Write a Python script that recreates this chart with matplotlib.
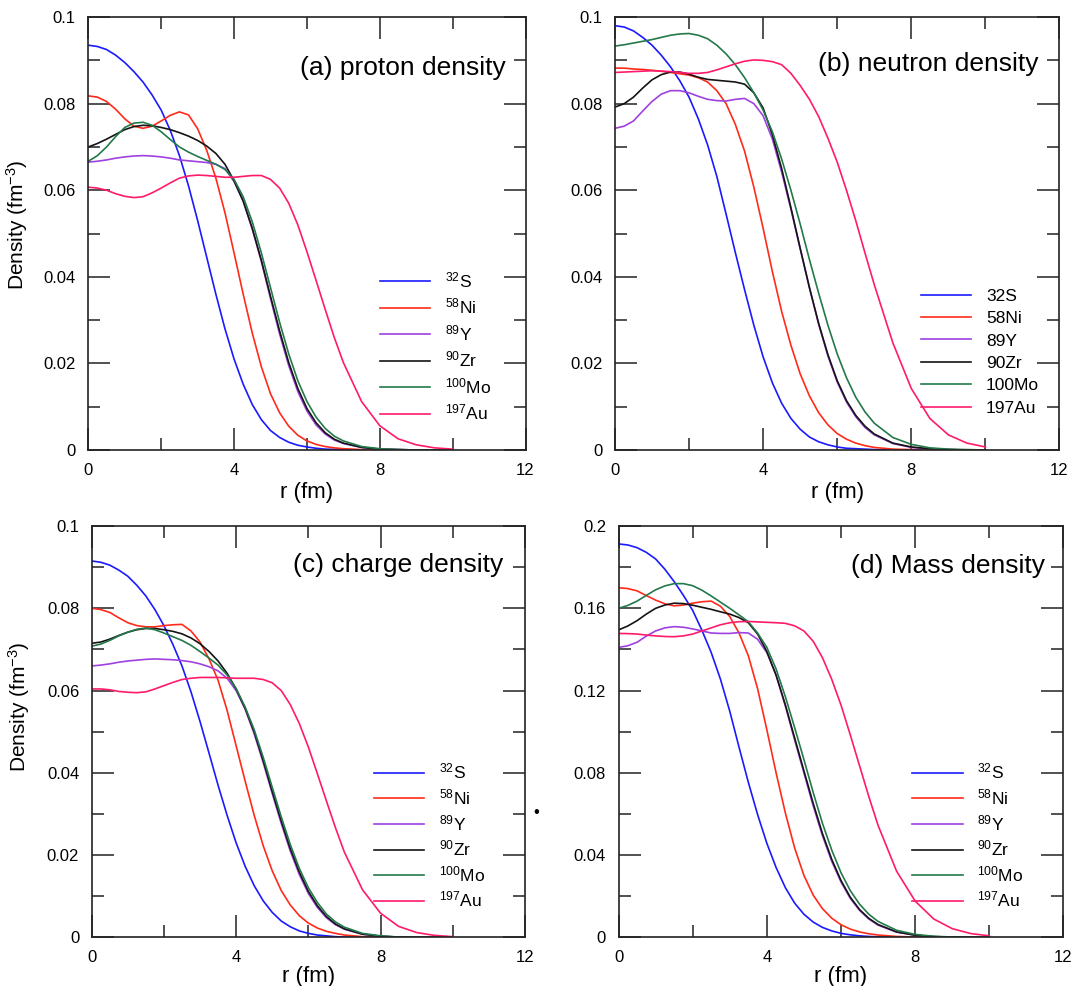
import matplotlib
matplotlib.use("Agg")
import matplotlib.pyplot as plt

plt.rcParams['font.family'] = ['Liberation Sans', 'DejaVu Sans']
plt.rcParams['mathtext.fontset'] = 'custom'
plt.rcParams['mathtext.rm'] = 'Liberation Sans'
plt.rcParams['mathtext.it'] = 'Liberation Sans:italic'

# radius grid (fm)
r = [0.0, 0.25, 0.5, 0.75, 1.0, 1.25, 1.5, 1.75, 2.0, 2.25, 2.5, 2.75, 3.0, 3.25, 3.5, 3.75, 4.0,
     4.25, 4.5, 4.75, 5.0, 5.25, 5.5, 5.75, 6.0, 6.25, 6.5, 6.75, 7.0, 7.5, 8.0, 8.5, 9.0, 9.5, 10.0]

# (a) proton density
a_S32 = [0.0935, 0.0932, 0.0925, 0.0912, 0.0895, 0.0874, 0.0850, 0.0820, 0.0785, 0.0738, 0.0680,
         0.0610, 0.0530, 0.0445, 0.0360, 0.0280, 0.0210, 0.0152, 0.0105, 0.0070, 0.0045, 0.0029,
         0.0018, 0.0011, 0.0007, 0.0004, 0.0002, 0.00015, 0.0001, 0, 0, 0, 0, 0, 0]
a_Ni58 = [0.0818, 0.0815, 0.0805, 0.0787, 0.0765, 0.0748, 0.0743, 0.0748, 0.0760, 0.0773, 0.0781,
          0.0774, 0.0742, 0.0692, 0.0628, 0.0548, 0.0455, 0.0360, 0.0270, 0.0192, 0.0130, 0.0086,
          0.0055, 0.0034, 0.0021, 0.0013, 0.0008, 0.0005, 0.0003, 0.0001, 0, 0, 0, 0, 0]
a_Y89 = [0.0665, 0.0667, 0.0670, 0.0674, 0.0677, 0.0679, 0.0680, 0.0679, 0.0677, 0.0674, 0.0670,
         0.0668, 0.0666, 0.0664, 0.0660, 0.0650, 0.0620, 0.0575, 0.0510, 0.0435, 0.0350, 0.0268,
         0.0195, 0.0135, 0.0090, 0.0058, 0.0037, 0.0023, 0.0015, 0.0006, 0.0002, 0.0001, 0, 0, 0]
a_Zr90 = [0.0700, 0.0708, 0.0718, 0.0729, 0.0740, 0.0747, 0.0750, 0.0749, 0.0745, 0.0740, 0.0733,
          0.0725, 0.0715, 0.0702, 0.0685, 0.0660, 0.0622, 0.0575, 0.0512, 0.0438, 0.0355, 0.0275,
          0.0202, 0.0142, 0.0096, 0.0063, 0.0040, 0.0025, 0.0016, 0.0006, 0.0002, 0.0001, 0, 0, 0]
a_Mo100 = [0.0667, 0.0680, 0.0700, 0.0724, 0.0745, 0.0755, 0.0757, 0.0750, 0.0735, 0.0717, 0.0700,
           0.0688, 0.0678, 0.0669, 0.0660, 0.0648, 0.0625, 0.0585, 0.0527, 0.0455, 0.0375, 0.0295,
           0.0222, 0.0160, 0.0112, 0.0076, 0.0050, 0.0032, 0.0021, 0.0008, 0.0003, 0.0001, 0, 0, 0]
a_Au197 = [0.0607, 0.0605, 0.0600, 0.0592, 0.0586, 0.0583, 0.0585, 0.0594, 0.0605, 0.0617, 0.0628,
           0.0633, 0.0635, 0.0634, 0.0632, 0.0630, 0.0630, 0.0632, 0.0634, 0.0634, 0.0625, 0.0605,
           0.0570, 0.0520, 0.0458, 0.0392, 0.0325, 0.0260, 0.0202, 0.0112, 0.0056, 0.0026, 0.0012, 0.0005, 0.0002]

# (b) neutron density
b_S32 = [0.0980, 0.0977, 0.0968, 0.0953, 0.0935, 0.0912, 0.0885, 0.0853, 0.0815, 0.0765, 0.0705,
         0.0632, 0.0545, 0.0456, 0.0370, 0.0288, 0.0215, 0.0155, 0.0108, 0.0073, 0.0048, 0.0030,
         0.0019, 0.0012, 0.0007, 0.0004, 0.0003, 0.0002, 0.0001, 0, 0, 0, 0, 0, 0]
b_Ni58 = [0.0882, 0.0882, 0.0880, 0.0879, 0.0877, 0.0875, 0.0872, 0.0869, 0.0866, 0.0860, 0.0850,
          0.0830, 0.0800, 0.0752, 0.0690, 0.0607, 0.0512, 0.0412, 0.0320, 0.0242, 0.0176, 0.0125,
          0.0086, 0.0058, 0.0038, 0.0025, 0.0016, 0.0010, 0.0006, 0.0002, 0.0001, 0, 0, 0, 0]
b_Y89 = [0.0743, 0.0748, 0.0760, 0.0783, 0.0805, 0.0822, 0.0830, 0.0830, 0.0825, 0.0817, 0.0810,
         0.0807, 0.0806, 0.0810, 0.0812, 0.0800, 0.0772, 0.0718, 0.0642, 0.0556, 0.0465, 0.0375,
         0.0290, 0.0217, 0.0157, 0.0111, 0.0077, 0.0052, 0.0035, 0.0015, 0.0006, 0.0002, 0.0001, 0, 0]
b_Zr90 = [0.0792, 0.0800, 0.0815, 0.0836, 0.0855, 0.0867, 0.0873, 0.0873, 0.0868, 0.0861, 0.0856,
          0.0854, 0.0852, 0.0850, 0.0845, 0.0825, 0.0790, 0.0728, 0.0650, 0.0560, 0.0466, 0.0375,
          0.0292, 0.0220, 0.0160, 0.0114, 0.0080, 0.0055, 0.0037, 0.0016, 0.0007, 0.0003, 0.0001, 0, 0]
b_Mo100 = [0.0933, 0.0936, 0.0940, 0.0944, 0.0948, 0.0953, 0.0958, 0.0961, 0.0962, 0.0958, 0.0950,
           0.0935, 0.0915, 0.0890, 0.0860, 0.0825, 0.0785, 0.0735, 0.0672, 0.0600, 0.0522, 0.0440,
           0.0362, 0.0288, 0.0222, 0.0167, 0.0122, 0.0088, 0.0062, 0.0029, 0.0013, 0.0005, 0.0002, 0.0001, 0]
b_Au197 = [0.0872, 0.0873, 0.0874, 0.0875, 0.0876, 0.0875, 0.0874, 0.0872, 0.0870, 0.0870, 0.0872,
           0.0878, 0.0885, 0.0892, 0.0898, 0.0901, 0.0900, 0.0897, 0.0890, 0.0870, 0.0842, 0.0810,
           0.0770, 0.0720, 0.0665, 0.0600, 0.0530, 0.0455, 0.0382, 0.0248, 0.0142, 0.0073, 0.0035, 0.0016, 0.0007]

# (c) charge density
c_S32 = [0.0915, 0.0912, 0.0905, 0.0893, 0.0878, 0.0856, 0.0830, 0.0797, 0.0758, 0.0712, 0.0660,
         0.0597, 0.0525, 0.0448, 0.0370, 0.0297, 0.0230, 0.0173, 0.0126, 0.0089, 0.0061, 0.0040,
         0.0026, 0.0016, 0.0010, 0.0006, 0.0004, 0.0002, 0.0001, 0, 0, 0, 0, 0, 0]
c_Ni58 = [0.0800, 0.0797, 0.0790, 0.0777, 0.0765, 0.0758, 0.0755, 0.0755, 0.0758, 0.0760, 0.0761,
          0.0745, 0.0718, 0.0677, 0.0625, 0.0552, 0.0466, 0.0380, 0.0297, 0.0223, 0.0162, 0.0114,
          0.0079, 0.0053, 0.0035, 0.0023, 0.0015, 0.0010, 0.0006, 0.0002, 0.0001, 0, 0, 0, 0]
c_Y89 = [0.0660, 0.0662, 0.0665, 0.0669, 0.0672, 0.0674, 0.0676, 0.0677, 0.0676, 0.0675, 0.0673,
         0.0670, 0.0665, 0.0658, 0.0648, 0.0630, 0.0600, 0.0555, 0.0495, 0.0425, 0.0350, 0.0277,
         0.0210, 0.0153, 0.0107, 0.0073, 0.0048, 0.0031, 0.0020, 0.0008, 0.0003, 0.0001, 0, 0, 0]
c_Zr90 = [0.0715, 0.0718, 0.0725, 0.0734, 0.0742, 0.0748, 0.0751, 0.0751, 0.0748, 0.0744, 0.0738,
          0.0728, 0.0714, 0.0695, 0.0672, 0.0642, 0.0604, 0.0557, 0.0500, 0.0430, 0.0355, 0.0283,
          0.0216, 0.0159, 0.0112, 0.0077, 0.0051, 0.0033, 0.0021, 0.0008, 0.0003, 0.0001, 0, 0, 0]
c_Mo100 = [0.0708, 0.0713, 0.0722, 0.0733, 0.0742, 0.0749, 0.0752, 0.0748, 0.0740, 0.0731, 0.0722,
           0.0710, 0.0695, 0.0679, 0.0662, 0.0638, 0.0605, 0.0560, 0.0505, 0.0438, 0.0365, 0.0293,
           0.0226, 0.0168, 0.0121, 0.0085, 0.0057, 0.0038, 0.0025, 0.0010, 0.0004, 0.0001, 0, 0, 0]
c_Au197 = [0.0604, 0.0604, 0.0602, 0.0598, 0.0596, 0.0595, 0.0597, 0.0604, 0.0612, 0.0620, 0.0627,
           0.0630, 0.0632, 0.0632, 0.0632, 0.0631, 0.0630, 0.0630, 0.0630, 0.0627, 0.0619, 0.0600,
           0.0566, 0.0520, 0.0463, 0.0398, 0.0332, 0.0267, 0.0207, 0.0116, 0.0059, 0.0027, 0.0012, 0.0005, 0.0002]

# (d) mass density
d_S32 = [0.1913, 0.1908, 0.1895, 0.1872, 0.1840, 0.1790, 0.1730, 0.1663, 0.1590, 0.1493, 0.1385,
         0.1255, 0.1100, 0.0925, 0.0755, 0.0598, 0.0458, 0.0340, 0.0242, 0.0167, 0.0113, 0.0075,
         0.0049, 0.0032, 0.0020, 0.0013, 0.0008, 0.0005, 0.0003, 0.0001, 0, 0, 0, 0, 0]
d_Ni58 = [0.1700, 0.1696, 0.1685, 0.1662, 0.1640, 0.1622, 0.1612, 0.1616, 0.1625, 0.1632, 0.1635,
          0.1610, 0.1560, 0.1480, 0.1370, 0.1210, 0.1010, 0.0800, 0.0605, 0.0435, 0.0302, 0.0206,
          0.0140, 0.0094, 0.0062, 0.0041, 0.0027, 0.0018, 0.0012, 0.0005, 0.0002, 0.0001, 0, 0, 0]
d_Y89 = [0.1410, 0.1418, 0.1435, 0.1465, 0.1490, 0.1505, 0.1511, 0.1508, 0.1500, 0.1490, 0.1480,
         0.1478, 0.1478, 0.1482, 0.1480, 0.1450, 0.1385, 0.1275, 0.1125, 0.0960, 0.0800, 0.0640,
         0.0495, 0.0370, 0.0270, 0.0190, 0.0132, 0.0090, 0.0060, 0.0026, 0.0011, 0.0004, 0.0002, 0, 0]
d_Zr90 = [0.1495, 0.1514, 0.1540, 0.1572, 0.1600, 0.1616, 0.1625, 0.1623, 0.1615, 0.1605, 0.1595,
          0.1583, 0.1572, 0.1555, 0.1530, 0.1475, 0.1390, 0.1275, 0.1130, 0.0970, 0.0810, 0.0652,
          0.0505, 0.0380, 0.0277, 0.0196, 0.0136, 0.0093, 0.0063, 0.0027, 0.0011, 0.0004, 0.0002, 0, 0]
d_Mo100 = [0.1600, 0.1614, 0.1635, 0.1663, 0.1690, 0.1709, 0.1720, 0.1720, 0.1710, 0.1688, 0.1660,
           0.1630, 0.1600, 0.1568, 0.1535, 0.1480, 0.1410, 0.1305, 0.1170, 0.1020, 0.0865, 0.0705,
           0.0555, 0.0425, 0.0315, 0.0228, 0.0162, 0.0113, 0.0078, 0.0035, 0.0015, 0.0006, 0.0002, 0.0001, 0]
d_Au197 = [0.1478, 0.1477, 0.1475, 0.1470, 0.1466, 0.1463, 0.1462, 0.1466, 0.1475, 0.1490, 0.1505,
           0.1520, 0.1530, 0.1535, 0.1536, 0.1534, 0.1532, 0.1530, 0.1527, 0.1515, 0.1490, 0.1440,
           0.1360, 0.1255, 0.1130, 0.0985, 0.0835, 0.0685, 0.0545, 0.0322, 0.0177, 0.0090, 0.0043, 0.0019, 0.0008]

nuclei_sup = ['$^{32}$S', '$^{58}$Ni', '$^{89}$Y', '$^{90}$Zr', '$^{100}$Mo', '$^{197}$Au']
nuclei_plain = ['32S', '58Ni', '89Y', '90Zr', '100Mo', '197Au']
colors = ['#1a1aff', '#ff2a1a', '#a040e0', '#141414', '#23794a', '#ff1a6c']

yt_small = [0, 0.02, 0.04, 0.06, 0.08, 0.1]
yt_small_lab = ['0', '0.02', '0.04', '0.06', '0.08', '0.1']
yt_mass = [0, 0.04, 0.08, 0.12, 0.16, 0.2]
yt_mass_lab = ['0', '0.04', '0.08', '0.12', '0.16', '0.2']


def panel(rect, curves, labels, title, title_pos, yt, ytl, leg_pos, leg_sp, ylab, ylab_pos, xlab_y):
    ax = fig.add_axes(rect)
    for y, lab, c in zip(curves, labels, colors):
        ax.plot(r, y, color=c, lw=1.2, label=lab)
    ax.set_xlim(0, 12)
    ax.set_ylim(0, yt[-1])
    ax.set_xticks([0, 4, 8, 12])
    ax.set_xticklabels(['0', '4', '8', '12'])
    ax.set_xticks([2, 6, 10], minor=True)
    ax.set_yticks(yt)
    ax.set_yticklabels(ytl)
    step = yt[1] / 2
    ax.set_yticks([step * (2 * i + 1) for i in range(5)], minor=True)
    ax.tick_params(which='both', direction='in', top=True, right=True, width=1.1, color='#222222')
    ax.tick_params(which='major', length=16, labelsize=12, pad=9)
    ax.tick_params(which='minor', length=8.5)
    for s in ax.spines.values():
        s.set_linewidth(1.2)
        s.set_color('#222222')
    ax.text(title_pos[0], title_pos[1], title, transform=ax.transAxes,
            ha='right', va='center', fontsize=19)
    ax.set_xlabel('r (fm)', fontsize=16)
    ax.xaxis.set_label_coords(0.5, xlab_y)
    if ylab:
        ax.set_ylabel('Density (fm$^{-3}$)', fontsize=15)
        ax.yaxis.set_label_coords(ylab_pos[0], ylab_pos[1])
    ax.legend(loc='upper left', bbox_to_anchor=leg_pos, frameon=False, fontsize=12.5,
              borderpad=0, borderaxespad=0, handlelength=2.9, handletextpad=0.85,
              labelspacing=leg_sp)
    return ax


fig = plt.figure(figsize=(10.8, 9.86), dpi=100)

panel([0.0818, 0.5436, 0.4048, 0.4391], [a_S32, a_Ni58, a_Y89, a_Zr90, a_Mo100, a_Au197],
      nuclei_sup, '(a) proton density', (0.954, 0.882), yt_small, yt_small_lab,
      (0.667, 0.415), 0.38, True, (-0.133, 0.52), -0.075)
panel([0.5694, 0.5436, 0.4116, 0.4391], [b_S32, b_Ni58, b_Y89, b_Zr90, b_Mo100, b_Au197],
      nuclei_plain, '(b) neutron density', (0.952, 0.892), yt_small, yt_small_lab,
      (0.688, 0.373), 0.42, False, None, -0.075)
panel([0.0849, 0.0492, 0.4012, 0.4173], [c_S32, c_Ni58, c_Y89, c_Zr90, c_Mo100, c_Au197],
      nuclei_sup, '(c) charge density', (0.949, 0.905), yt_small, yt_small_lab,
      (0.651, 0.427), 0.33, True, (-0.138, 0.56), -0.069)
panel([0.5727, 0.0492, 0.4120, 0.4173], [d_S32, d_Ni58, d_Y89, d_Zr90, d_Mo100, d_Au197],
      nuclei_sup, '(d) Mass density', (0.958, 0.903), yt_mass, yt_mass_lab,
      (0.66, 0.427), 0.33, False, None, -0.069)

# small stray dot between the lower panels
fig.text(536 / 1080, 1 - 813 / 986, '\u2022', fontsize=12, ha='center', va='center')

fig.savefig('out.png', dpi=100)
